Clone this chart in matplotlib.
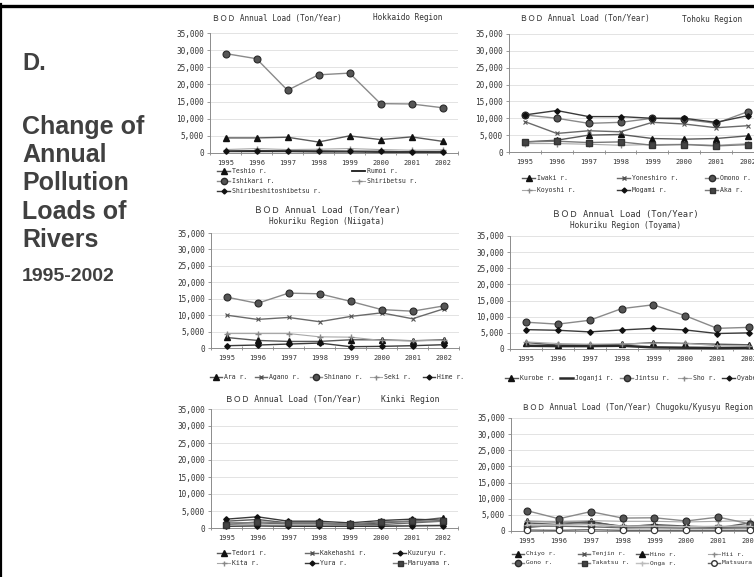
import matplotlib
matplotlib.use("Agg")
import matplotlib.pyplot as plt
from matplotlib.lines import Line2D

W, H = 754, 577
YEARS = ["1995", "1996", "1997", "1998", "1999", "2000", "2001", "2002"]
Y_TICKS = [0, 5000, 10000, 15000, 20000, 25000, 30000, 35000]
Y_TICK_LABELS = ["0", "5,000", "10,000", "15,000", "20,000", "25,000", "30,000", "35,000"]

# BOD annual load (ton/year) by river
HOKKAIDO_RIVERS = ["Teshio r.", "Rumoi r.", "Ishikari r.", "Shiribetsu r.", "Shiribeshitoshibetsu r."]
HOKKAIDO_LOADS = [
    [4400, 4400, 4600, 3200, 5000, 3900, 4700, 3400],
    [500, 500, 500, 400, 400, 300, 300, 300],
    [29000, 27500, 18300, 22800, 23300, 14400, 14300, 13200],
    [1000, 1300, 1000, 1100, 1300, 1000, 800, 900],
    [500, 700, 600, 600, 500, 500, 300, 400],
]
HOKKAIDO_STYLES = ["tri", "plain", "circle", "plus", "diamond"]

TOHOKU_RIVERS = ["Iwaki r.", "Yoneshiro r.", "Omono r.", "Koyoshi r.", "Mogami r.", "Aka r."]
TOHOKU_LOADS = [
    [3000, 3500, 5000, 5200, 4000, 3800, 4000, 4800],
    [9000, 5500, 6300, 6000, 8800, 8300, 7200, 7800],
    [11000, 10000, 8500, 8800, 10000, 9700, 8500, 12000],
    [2500, 2500, 2300, 2000, 2200, 2300, 2000, 2500],
    [11000, 12300, 10500, 10500, 10000, 10000, 8800, 10800],
    [3000, 3200, 2800, 3000, 2000, 2200, 1800, 2200],
]
TOHOKU_STYLES = ["tri", "star", "circle", "plus", "diamond", "square"]

NIIGATA_RIVERS = ["Ara r.", "Agano r.", "Shinano r.", "Seki r.", "Hime r."]
NIIGATA_LOADS = [
    [3200, 2300, 2000, 2000, 2500, 2500, 2200, 2500],
    [10000, 8700, 9300, 8000, 9600, 10700, 8900, 11900],
    [15500, 13600, 16700, 16500, 14200, 11700, 11200, 12800],
    [4400, 4400, 4400, 3400, 3300, 2300, 2200, 2300],
    [700, 900, 1200, 1500, 400, 500, 700, 1000],
]
NIIGATA_STYLES = ["tri", "star", "circle", "plus", "diamond"]

TOYAMA_RIVERS = ["Kurobe r.", "Joganji r.", "Jintsu r.", "Sho r.", "Oyabe r."]
TOYAMA_LOADS = [
    [2000, 1200, 1200, 1400, 2000, 1700, 1500, 1300],
    [1000, 900, 900, 1000, 500, 400, 300, 400],
    [8300, 7700, 8900, 12500, 13700, 10300, 6400, 6700],
    [2200, 1700, 1500, 1600, 1800, 1800, 1000, 1000],
    [6000, 5800, 5300, 5900, 6400, 5900, 4800, 5000],
]
TOYAMA_STYLES = ["tri", "double", "circle", "plus", "diamond"]

KINKI_RIVERS = ["Tedori r.", "Kakehashi r.", "Kuzuryu r.", "Kita r.", "Yura r.", "Maruyama r."]
KINKI_LOADS = [
    [2000, 2500, 1500, 1500, 1000, 1500, 2000, 3000],
    [1500, 1500, 1200, 1200, 1000, 1000, 1500, 2000],
    [2600, 3300, 2000, 2000, 1500, 2200, 2600, 2300],
    [1000, 1000, 800, 800, 800, 700, 800, 900],
    [500, 600, 500, 500, 500, 500, 600, 700],
    [1000, 1800, 1500, 1500, 1200, 1800, 2000, 2000],
]
KINKI_STYLES = ["tri", "star", "diamond", "plus", "diamond", "square"]

CHUGOKU_RIVERS = ["Chiyo r.", "Tenjin r.", "Hino r.", "Hii r.",
                  "Gono r.", "Takatsu r.", "Onga r.", "Matsuura r."]
CHUGOKU_LOADS = [
    [3000, 2800, 2700, 1500, 1800, 1200, 1000, 2500],
    [1500, 1500, 1300, 1000, 1000, 900, 1000, 1000],
    [2500, 2000, 3000, 1200, 2000, 1500, 1200, 1500],
    [3000, 3000, 3200, 3000, 3000, 2800, 3000, 3200],
    [6300, 3800, 6000, 4000, 4100, 3100, 4300, 2200],
    [1000, 2000, 2300, 1000, 1200, 1000, 800, 1000],
    [2000, 1800, 2000, 1500, 1500, 1300, 1500, 1500],
    [300, 200, 400, 200, 200, 200, 200, 200],
]
CHUGOKU_STYLES = ["tri", "star", "tri", "plus", "circle", "square", "light", "open"]

STYLES = {
    "tri": dict(color="#5a5a5a", lw=1.0, marker="^", ms=4.2, mfc="#111", mec="#111"),
    "plain": dict(color="#1a1a1a", lw=1.3, marker=None),
    "circle": dict(color="#8a8a8a", lw=1.0, marker="o", ms=5, mfc="#555", mec="#2a2a2a", mew=0.8),
    "plus": dict(color="#a8a8a8", lw=0.8, marker="+", ms=4, mfc="#888", mec="#888"),
    "diamond": dict(color="#3a3a3a", lw=1.0, marker="D", ms=2.8, mfc="#111", mec="#111"),
    "star": dict(color="#6a6a6a", lw=1.0, marker="x", ms=3, mfc="#555", mec="#555", mew=0.8),
    "square": dict(color="#7a7a7a", lw=1.0, marker="s", ms=4, mfc="#444", mec="#333"),
    "double": dict(color="#2a2a2a", lw=1.8, marker=None),
    "light": dict(color="#c0c0c0", lw=1.0, marker="+", ms=4, mfc="#bbb", mec="#bbb"),
    "open": dict(color="#666", lw=1.0, marker="o", ms=4.5, mfc="white", mec="#333", mew=0.8),
}

MONO = ["DejaVu Sans Mono", "Noto Sans CJK JP"]
TXT = "#333333"

fig = plt.figure(figsize=(W / 100, H / 100), dpi=100)


def px(x, y):
    return x / W, 1 - y / H


def make_axes(left, top, right, bottom):
    ax = fig.add_axes([left / W, 1 - bottom / H, (right - left) / W, (bottom - top) / H])
    ax.set_xlim(-0.5, 7.5)
    ax.set_ylim(0, 35000)
    ax.set_yticks(Y_TICKS)
    ax.set_yticklabels(Y_TICK_LABELS, family=MONO, fontsize=5.6, color=TXT)
    ax.set_xticks(range(len(YEARS)))
    ax.set_xticklabels(YEARS, family=MONO, fontsize=5.0, color=TXT)
    ax.set_xticks([i + 0.5 for i in range(-1, 8)], minor=True)
    ax.tick_params(axis="x", which="major", length=0, pad=5)
    ax.tick_params(axis="x", which="minor", length=3, direction="inout", color="#888", width=0.6)
    ax.tick_params(axis="y", which="major", length=2.5, direction="out", color="#888", width=0.6, pad=2)
    for s in ("top", "right"):
        ax.spines[s].set_visible(False)
    for s in ("left", "bottom"):
        ax.spines[s].set_color("#8c8c8c")
        ax.spines[s].set_linewidth(0.7)
    ax.grid(axis="y", color="#dedede", lw=0.6)
    ax.set_axisbelow(True)
    return ax


def draw_series(ax, loads, styles):
    lines = []
    for vals, st in zip(loads, styles):
        ln, = ax.plot(range(len(YEARS)), vals, clip_on=False, zorder=3, **STYLES[st])
        lines.append(ln)
    return lines


def legend(lines, labels, spots, hl=13, size=4.7):
    for ln, lab, (x, y) in zip(lines, labels, spots):
        x0, y0 = px(x, y)
        x1, _ = px(x + hl, y)
        h = Line2D([x0, (x0 + x1) / 2, x1], [y0, y0, y0], transform=fig.transFigure,
                   color=ln.get_color(), lw=ln.get_linewidth(), marker=ln.get_marker(),
                   ms=ln.get_markersize() * 0.9, mfc=ln.get_markerfacecolor(),
                   mec=ln.get_markeredgecolor(), markevery=[1])
        fig.add_artist(h)
        fig.text(*px(x + hl + 2, y), lab, family=MONO, fontsize=size, color=TXT,
                 ha="left", va="center")


def ftext(x, y, s, **kw):
    kw.setdefault("family", MONO)
    kw.setdefault("fontsize", 5.6)
    kw.setdefault("color", TXT)
    kw.setdefault("va", "center")
    fig.text(*px(x, y), s, **kw)


TITLE = "ＢＯＤ Annual Load (Ton/Year)"

# Hokkaido
ax = make_axes(210, 33, 458, 153)
ls = draw_series(ax, HOKKAIDO_LOADS, HOKKAIDO_STYLES)
ftext(212, 18, TITLE)
ftext(373, 18, "Hokkaido Region")
legend(ls, HOKKAIDO_RIVERS, [(217, 171), (352, 171), (217, 181), (352, 181), (217, 191)])

# Tohoku
ax = make_axes(509, 34, 764, 152)
ls = draw_series(ax, TOHOKU_LOADS, TOHOKU_STYLES)
ftext(520, 19, TITLE)
ftext(682, 19, "Tohoku Region")
legend(ls, TOHOKU_RIVERS, [(522, 178), (617, 178), (705, 178),
                          (522, 190), (617, 190), (705, 190)])

# Hokuriku (Niigata)
ax = make_axes(211, 233, 459, 348)
ls = draw_series(ax, NIIGATA_LOADS, NIIGATA_STYLES)
ftext(327, 211, TITLE, ha="center", fontsize=6.2)
ftext(327, 222, "Hokuriku Region (Niigata)", ha="center")
legend(ls, NIIGATA_RIVERS, [(210, 377), (255, 377), (310, 377), (370, 377), (423, 377)], hl=12)

# Hokuriku (Toyama)
ax = make_axes(510, 236, 765, 349)
ls = draw_series(ax, TOYAMA_LOADS, TOYAMA_STYLES)
ftext(625, 215, TITLE, ha="center", fontsize=6.2)
ftext(625, 225, "Hokuriku Region (Toyama)", ha="center")
legend(ls, TOYAMA_RIVERS, [(505, 378), (560, 378), (620, 378), (678, 378), (722, 378)], hl=13)

# Kinki
ax = make_axes(211, 409, 458, 528)
ls = draw_series(ax, KINKI_LOADS, KINKI_STYLES)
ftext(225, 400, TITLE + "    Kinki Region", fontsize=5.9)
legend(ls, KINKI_RIVERS, [(217, 553), (305, 553), (393, 553),
                         (217, 563), (305, 563), (393, 563)])

# Chugoku / Kyusyu
ax = make_axes(511, 418, 766, 531)
ls = draw_series(ax, CHUGOKU_LOADS, CHUGOKU_STYLES)
ftext(522, 407, TITLE + " Chugoku/Kyusyu Region", fontsize=5.5)
legend(ls, CHUGOKU_RIVERS, [(512, 554), (578, 554), (636, 554), (708, 554),
                           (512, 563), (578, 563), (636, 563), (708, 563)], hl=12, size=4.5)

# Side caption
SANS = "Liberation Sans"
GREY = "#404040"
fig.text(*px(22, 63), "D.", family=SANS, weight="bold", fontsize=17, color=GREY, va="center")
for i, s in enumerate(["Change of", "Annual", "Pollution", "Loads of", "Rivers"]):
    fig.text(*px(22, 127 + 28.2 * i), s, family=SANS, weight="bold", fontsize=18,
             color=GREY, va="center")
fig.text(*px(22, 277), "1995-2002", family=SANS, weight="bold", fontsize=14,
         color=GREY, va="center")

# Frame lines
fig.add_artist(Line2D([0, 1], [1 - 5.5 / H] * 2, transform=fig.transFigure, color="black", lw=2.4))
fig.add_artist(Line2D([1 / W] * 2, [0, 1 - 4 / H], transform=fig.transFigure, color="black", lw=1.6))

fig.savefig("out.png", dpi=100)
